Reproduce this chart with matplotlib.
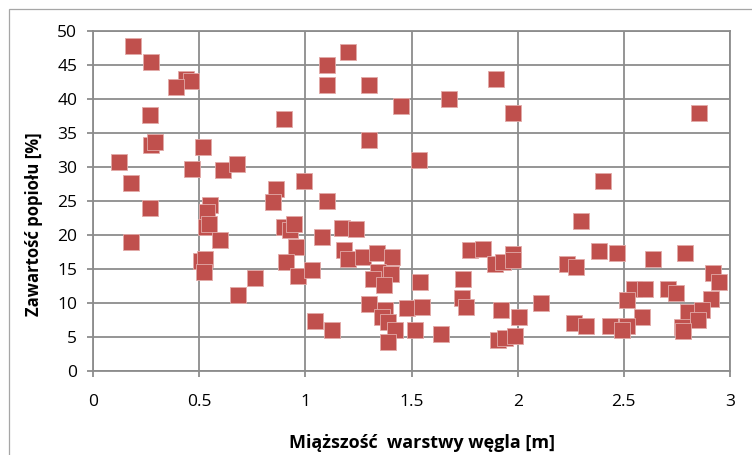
import matplotlib
matplotlib.use("Agg")
import matplotlib.pyplot as plt
from matplotlib.patches import Rectangle

# thickness of coal seam [m]
thickness = [
    0.19, 0.275, 0.44, 0.46, 0.39, 0.27, 0.90, 0.275, 0.29, 0.52,
    0.124, 0.464, 0.61, 0.68, 0.18, 0.86, 0.846, 0.995, 0.55, 0.27,
    0.536, 0.53, 0.545, 0.60, 0.18, 0.508, 0.528, 0.525, 0.764, 0.684,
    0.90, 0.93, 0.948, 0.954, 0.907, 0.966, 1.047,
    1.20, 1.10, 1.10, 1.30, 1.90, 1.45, 1.675, 1.98, 1.30, 1.534,
    1.10, 1.171, 1.24, 1.077, 1.184, 1.20, 1.27, 1.336, 1.41, 1.03,
    1.34, 1.317, 1.404, 1.37, 1.54, 1.30, 1.377, 1.36, 1.39, 1.424,
    1.478, 1.549, 1.515, 1.64, 1.387, 1.127,
    1.774, 1.836, 1.892, 1.93, 1.98, 1.978, 1.744, 1.74, 1.758, 1.92,
    2.005, 1.907, 1.939, 1.986,
    2.852, 2.40, 2.30, 2.382, 2.47, 2.637, 2.79, 2.234, 2.277, 2.92,
    2.948, 2.549, 2.60, 2.71, 2.744, 2.514, 2.91, 2.108, 2.586, 2.80,
    2.866, 2.85, 2.264, 2.324, 2.434, 2.513, 2.49, 2.772, 2.78,
]
# ash content [%]
ash = [
    47.8, 45.5, 43.0, 42.6, 41.7, 37.7, 37.1, 33.2, 33.7, 33.0,
    30.7, 29.7, 29.6, 30.5, 27.6, 26.7, 24.9, 28.0, 24.4, 23.9,
    23.4, 21.2, 21.6, 19.3, 18.9, 16.2, 16.5, 14.6, 13.7, 11.2,
    21.2, 20.8, 21.6, 18.2, 16.0, 14.0, 7.3,
    46.9, 45.0, 42.0, 42.0, 43.0, 39.0, 40.0, 37.9, 34.0, 31.0,
    25.0, 21.1, 20.9, 19.7, 17.8, 16.5, 16.7, 17.4, 16.7, 14.9,
    14.5, 13.5, 14.2, 12.6, 13.1, 9.8, 9.0, 8.0, 7.2, 6.1,
    9.2, 9.4, 6.1, 5.5, 4.2, 6.0,
    17.8, 17.9, 15.8, 16.05, 17.2, 16.3, 13.5, 10.7, 9.4, 8.9,
    8.0, 4.6, 4.8, 5.1,
    37.9, 28.0, 22.0, 17.7, 17.4, 16.4, 17.4, 15.8, 15.3, 14.4,
    13.1, 12.1, 12.1, 12.1, 11.4, 10.4, 10.6, 10.0, 8.0, 8.7,
    8.9, 7.5, 7.0, 6.6, 6.6, 6.6, 6.0, 6.5, 5.9,
]

x_ticks = [0, 0.5, 1, 1.5, 2, 2.5, 3]
x_tick_labels = ["0", "0.5", "1", "1.5", "2", "2.5", "3"]
y_ticks = [0, 5, 10, 15, 20, 25, 30, 35, 40, 45, 50]
x_title = "Miąższość  warstwy węgla [m]"
y_title = "Zawartość popiołu [%]"

plt.rcParams['font.family'] = ['Open Sans', 'DejaVu Sans']

W, H = 752, 455
fig = plt.figure(figsize=(W / 100, H / 100), dpi=100)
fig.patch.set_facecolor('white')

# outer chart border
fig.patches.append(Rectangle((9 / W, -0.05), 1.2, (455 - 9) / H + 0.05,
                             transform=fig.transFigure, fill=False,
                             edgecolor='#a6a6a6', linewidth=0.9))

ax = fig.add_axes([93 / W, (H - 371) / H, (730 - 93) / W, (371 - 31) / H])
grid_c = '#8c8c8c'
ax.scatter(thickness, ash, marker='s', s=128, facecolor='#C0504D',
           edgecolor='#E2AAA8', linewidths=0.6, zorder=3)

ax.set_xlim(0, 3)
ax.set_ylim(0, 50)
ax.set_xticks(x_ticks)
ax.set_xticklabels(x_tick_labels)
ax.set_yticks(y_ticks)
ax.grid(True, color=grid_c, linewidth=1.3, zorder=0)
for s in ax.spines.values():
    s.set_color(grid_c)
    s.set_linewidth(1.3)
ax.tick_params(axis='both', color=grid_c, width=1.3, length=4.3,
               labelsize=12.5, labelcolor='black')
ax.tick_params(axis='x', pad=12)
ax.tick_params(axis='y', pad=7)

fig.text(422 / W, 1 - 448 / H, x_title, fontsize=13, fontweight='bold',
         ha='center', va='baseline')
fig.text(34 / W, 1 - 224 / H, y_title, fontsize=12, fontweight='bold',
         ha='center', va='center', rotation=90)

fig.savefig("out.png", dpi=100)
